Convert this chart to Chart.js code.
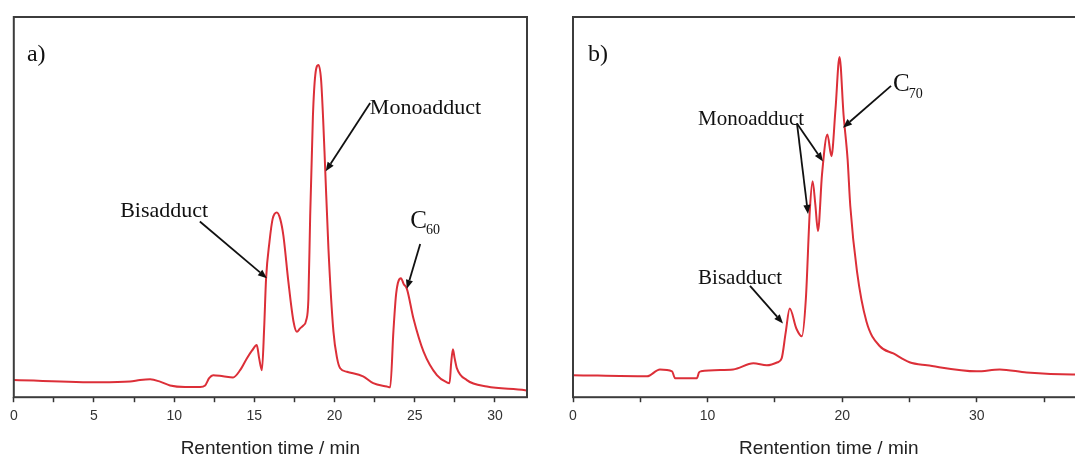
<!DOCTYPE html>
<html>
<head>
<meta charset="utf-8">
<script src="https://cdn.jsdelivr.net/npm/chart.js@4/dist/chart.umd.min.js"></script>
<style>
html,body{margin:0;padding:0;background:#fff;overflow:hidden;width:1075px;height:455px;position:relative;}
canvas{position:absolute;top:0;}
#ca{left:0;}
#cb{left:540px;}
</style>
</head>
<body>
<canvas id="ca" width="540" height="460"></canvas>
<canvas id="cb" width="556" height="460"></canvas>
<script>
// ---- Panel a) : retention time (min) and detector signal (a.u., 0-100 of frame height)
const timeA = [0, 5.38, 7.25, 7.87, 8.5, 9.12, 9.74, 10.68, 11.62, 11.93, 12.18, 12.43, 13.05, 13.67, 14.11, 14.53, 14.86, 15.15, 15.3, 15.47, 15.61, 15.73, 15.94, 16.14, 16.4, 16.61, 16.81, 17.12, 17.44, 17.65, 17.85, 18.06, 18.23, 18.37, 18.48, 18.65, 18.8, 19.0, 19.16, 19.29, 19.41, 19.62, 19.93, 20.16, 20.35, 20.77, 21.78, 22.41, 23.26, 23.47, 23.67, 23.84, 24.14, 24.31, 24.51, 24.92, 25.55, 26.38, 27.0, 27.17, 27.27, 27.38, 27.49, 27.63, 28.25, 29.5, 31.89, 32];
const signalA = [4.5, 3.9, 4.1, 4.5, 4.7, 4.1, 3.1, 2.7, 2.7, 3.1, 5.0, 5.8, 5.5, 5.2, 7.1, 10.2, 12.3, 13.7, 10.2, 7.1, 18.1, 31.2, 40.8, 46.9, 48.6, 46.9, 42.5, 30.4, 19.9, 17.2, 18.1, 18.9, 20.2, 25.9, 47.6, 73.8, 84.8, 87.4, 83.5, 73.0, 60.7, 39.0, 17.3, 10.2, 7.6, 6.7, 5.5, 3.7, 2.8, 2.6, 17.3, 27.2, 31.3, 29.8, 28.5, 20.7, 12.0, 5.8, 3.9, 3.7, 8.9, 12.6, 10.2, 7.6, 4.5, 2.8, 1.8, 1.7];

// ---- Panel b)
const timeB = [0, 5.5, 6.46, 7.36, 7.58, 9.2, 9.36, 9.5, 11.9, 13.4, 14.4, 15.2, 15.5, 15.8, 16.1, 16.6, 17.0, 17.3, 17.6, 17.8, 18.0, 18.2, 18.5, 18.9, 19.2, 19.5, 19.8, 20.1, 20.4, 20.6, 21.1, 21.8, 22.8, 23.8, 25.0, 26.3, 30.0, 31.7, 33.7, 37.1, 38];
const signalB = [5.8, 5.5, 7.3, 6.8, 5.0, 5.0, 6.5, 6.8, 7.3, 8.9, 8.4, 9.2, 10.2, 17.0, 23.3, 18.0, 16.0, 25.9, 49.5, 56.8, 50.8, 43.7, 58.6, 69.1, 63.4, 75.7, 89.5, 74.3, 62.6, 50.3, 33.0, 19.9, 13.4, 11.5, 9.2, 8.4, 6.8, 7.3, 6.5, 6.0, 6.0];

// ---- axis ranges and tick labels
const rangeA = [0, 32];
const rangeB = [0, 38];
const tickStepA = 2.5, labelEveryA = 5;
const tickStepB = 5, labelEveryB = 10;
const axisTitle = 'Rentention time / min';

// ---- annotations (data coordinates)
const notesA = [
  {text: 'a)', at: [0.82, 90.1], size: 24},
  {text: 'Bisadduct', at: [6.63, 49.0], size: 22, arrows: [[11.6, 46.2, 15.78, 31.3]]},
  {text: 'Monoadduct', at: [22.2, 75.9], size: 22, arrows: [[22.22, 77.4, 19.45, 59.4]]},
  {text: 'C', sub: '60', at: [24.72, 46.3], size: 25, arrows: [[25.34, 40.3, 24.51, 28.5]]}
];
const notesB = [
  {text: 'b)', at: [1.11, 90.1], size: 24},
  {text: 'Monoadduct', at: [9.29, 73.0], size: 21, arrows: [[16.64, 72.0, 18.57, 62.0], [16.64, 72.0, 17.46, 48.2]]},
  {text: 'C', sub: '70', at: [23.77, 82.2], size: 25, arrows: [[23.63, 81.9, 20.06, 70.9]]},
  {text: 'Bisadduct', at: [9.29, 31.2], size: 21, arrows: [[13.15, 29.3, 15.6, 19.4]]}
];

const framePlugin = {
  id: 'frame',
  afterDraw(chart) {
    const {ctx, chartArea: a} = chart;
    ctx.save();
    ctx.strokeStyle = '#3c3c3c';
    ctx.lineWidth = 2;
    ctx.strokeRect(a.left, a.top, a.right - a.left, a.bottom - a.top);
    ctx.restore();
  }
};

const notesPlugin = {
  id: 'notes',
  afterDraw(chart, args, opts) {
    const ctx = chart.ctx, xs = chart.scales.x, ys = chart.scales.y;
    ctx.save();
    ctx.fillStyle = '#111';
    ctx.strokeStyle = '#111';
    (opts.items || []).forEach(n => {
      const px = xs.getPixelForValue(n.at[0]);
      const py = ys.getPixelForValue(n.at[1]);
      ctx.font = n.size + 'px "Liberation Serif", "Times New Roman", serif';
      ctx.textAlign = 'left';
      ctx.textBaseline = 'middle';
      ctx.fillText(n.text, px, py);
      if (n.sub) {
        const w = ctx.measureText(n.text).width;
        ctx.font = Math.round(n.size * 0.58) + 'px "Liberation Serif", "Times New Roman", serif';
        ctx.fillText(n.sub, px + w - 1, py + n.size * 0.38);
      }
      (n.arrows || []).forEach(ar => {
        const x1 = xs.getPixelForValue(ar[0]), y1 = ys.getPixelForValue(ar[1]);
        const x2 = xs.getPixelForValue(ar[2]), y2 = ys.getPixelForValue(ar[3]);
        const ang = Math.atan2(y2 - y1, x2 - x1);
        const hl = 9, hw = 3.6;
        const bx = x2 - hl * Math.cos(ang), by = y2 - hl * Math.sin(ang);
        ctx.lineWidth = 1.8;
        ctx.beginPath();
        ctx.moveTo(x1, y1);
        ctx.lineTo(bx, by);
        ctx.stroke();
        ctx.beginPath();
        ctx.moveTo(x2, y2);
        ctx.lineTo(bx + hw * Math.sin(ang), by - hw * Math.cos(ang));
        ctx.lineTo(bx - hw * Math.sin(ang), by + hw * Math.cos(ang));
        ctx.closePath();
        ctx.fill();
      });
    });
    ctx.restore();
  }
};

function makeChart(id, times, values, range, step, every, notes, pad) {
  const pts = times.map((t, i) => ({x: t, y: values[i]}));
  return new Chart(document.getElementById(id), {
    type: 'line',
    data: {datasets: [{
      data: pts,
      borderColor: '#dc2f38',
      borderWidth: 2,
      pointRadius: 0,
      fill: false,
      cubicInterpolationMode: 'monotone'
    }]},
    options: {
      responsive: false,
      animation: false,
      devicePixelRatio: 1,
      layout: {padding: pad},
      plugins: {legend: {display: false}, tooltip: {enabled: false}, notes: {items: notes}},
      scales: {
        x: {
          type: 'linear', position: 'bottom', min: range[0], max: range[1],
          border: {display: false},
          grid: {display: true, drawOnChartArea: false, drawTicks: true, tickLength: 5, tickColor: '#333', tickWidth: 1.5},
          ticks: {
            stepSize: step, includeBounds: false, autoSkip: false, maxRotation: 0, padding: 6,
            color: '#333', font: {family: '"Liberation Sans", Arial, sans-serif', size: 14},
            callback: v => (Math.abs(v % every) < 1e-9 ? String(v) : '')
          },
          title: {display: true, text: axisTitle, color: '#222',
            font: {family: '"Liberation Sans", Arial, sans-serif', size: 19, lineHeight: 1},
            padding: {top: 8.5, bottom: 1.5}}
        },
        y: {display: false, min: 0, max: 100}
      }
    },
    plugins: [framePlugin, notesPlugin]
  });
}

makeChart('ca', timeA, signalA, rangeA, tickStepA, labelEveryA, notesA, {left: 13.8, right: 13, top: 17, bottom: 0});
makeChart('cb', timeB, signalB, rangeB, tickStepB, labelEveryB, notesB, {left: 33, right: 11.5, top: 17, bottom: 0});
</script>
</body>
</html>
